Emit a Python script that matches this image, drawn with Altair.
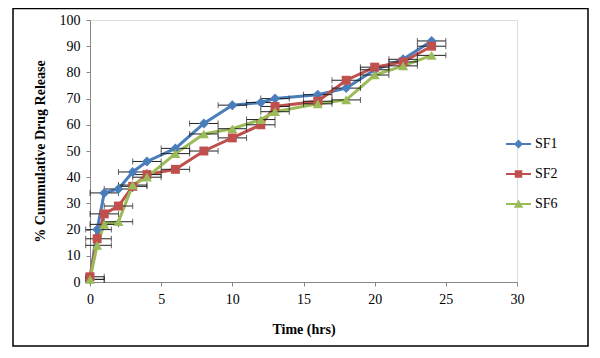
import altair as alt
import pandas as pd

time = [0, 0.5, 1, 2, 3, 4, 6, 8, 10, 12, 13, 16, 18, 20, 22, 24]
sf1 = [1, 20, 34, 35.5, 42, 46, 51, 60.5, 67.5, 68.5, 70, 71.5, 74, 81, 85, 92]
sf2 = [2, 16.5, 26, 29, 36.5, 41, 43, 50, 55, 60, 67, 69, 77, 82, 84, 90]
sf6 = [1, 14, 22, 23, 37, 40, 49, 56.5, 58.5, 62, 65, 68, 69.5, 79, 82.5, 86.5]
x_err = 1.0
series_names = ["SF1", "SF2", "SF6"]
colors = ["#4A7EBB", "#C0504D", "#9BBB59"]
shapes = ["diamond", "square", "triangle-up"]

rows = []
for name, col, vals in zip(series_names, colors, [sf1, sf2, sf6]):
    for t, v in zip(time, vals):
        rows.append({"series": name, "col": col, "t": t, "v": v,
                     "lo": max(t - x_err, -0.3), "hi": t + x_err})
df = pd.DataFrame(rows)

FONT = "Liberation Serif, Times New Roman, serif"

x_scale = alt.Scale(domain=[0, 30], nice=False, zero=False)
y_scale = alt.Scale(domain=[0, 100], nice=False)

axis_common = dict(titleFontWeight="bold", titleFont=FONT, titleFontSize=14,
                   labelFont=FONT, labelFontSize=14, labelPadding=6, labelFlush=False,
                   grid=False, domainColor="#868686", tickColor="#868686", tickSize=4,
                   labelColor="black", titleColor="black", labelOverlap=False)
x_axis = alt.Axis(values=[0, 5, 10, 15, 20, 25, 30], title="Time (hrs)", titlePadding=16,
                  **axis_common)
y_axis = alt.Axis(values=list(range(0, 101, 10)), title="% Cummulative Drug Release",
                  titleX=-50, titleY=131, titleBaseline="middle", titleAlign="center",
                  **axis_common)

def X(field):
    return alt.X(field, scale=x_scale, axis=x_axis)

def Y(field):
    return alt.Y(field, scale=y_scale, axis=y_axis)

line_path = "M-1,-0.08H1V0.08H-1Z"
legend_paths = [
    line_path + "M0,-0.36L0.36,0L0,0.36L-0.36,0Z",
    line_path + "M-0.3,-0.3H0.3V0.3H-0.3Z",
    line_path + "M0,-0.36L0.38,0.3H-0.38Z",
]
legend = alt.Legend(title=None, orient="none", legendX=415, legendY=110.5,
                    labelFont=FONT, labelFontSize=14, labelColor="black",
                    symbolSize=625, rowPadding=9, labelOffset=3, padding=0)

base = alt.Chart(df)

lines = base.mark_line(strokeWidth=3).encode(
    x=X("t:Q"), y=Y("v:Q"),
    color=alt.Color("col:N", scale=None),
    detail="series:N",
)

err = base.mark_rule(color="#222222", strokeWidth=1).encode(
    x=X("lo:Q"), x2="hi:Q", y=Y("v:Q")
)
cap_lo = base.mark_tick(color="#222222", orient="vertical", size=6, thickness=1).encode(
    x=X("lo:Q"), y=Y("v:Q")
)
cap_hi = base.mark_tick(color="#222222", orient="vertical", size=6, thickness=1).encode(
    x=X("hi:Q"), y=Y("v:Q")
)

point_layers = []
for name, shp, sz in zip(series_names, shapes, [100, 80, 100]):
    point_layers.append(
        base.transform_filter(alt.datum.series == name)
        .mark_point(filled=True, size=sz, opacity=1, shape=shp)
        .encode(x=X("t:Q"), y=Y("v:Q"), color=alt.Color("col:N", scale=None))
    )

legend_layer = base.transform_filter("false").mark_point(filled=True, size=625, opacity=1).encode(
    x=X("t:Q"), y=Y("v:Q"),
    fill=alt.Fill("series:N", scale=alt.Scale(domain=series_names, range=colors), legend=legend),
    shape=alt.Shape("series:N", scale=alt.Scale(domain=series_names, range=legend_paths),
                    legend=legend),
)

border = alt.Chart(pd.DataFrame({"a": [0]})).mark_rect(
    fill="transparent", stroke="black", strokeWidth=1.5
).encode(x=alt.value(-77), x2=alt.value(498), y=alt.value(-11.5), y2=alt.value(326))

chart = alt.layer(lines, err, cap_lo, cap_hi, *point_layers, legend_layer, border).properties(
    width=427, height=262,
    autosize=alt.AutoSizeParams(type="none"),
    padding={"left": 82, "top": 12, "right": 75, "bottom": 68},
).configure_view(strokeWidth=0).configure(background="white", font=FONT).configure_axis(
    labelFont=FONT, titleFont=FONT
)

chart.save("out.html", embed_options={"renderer": "svg", "actions": False})
